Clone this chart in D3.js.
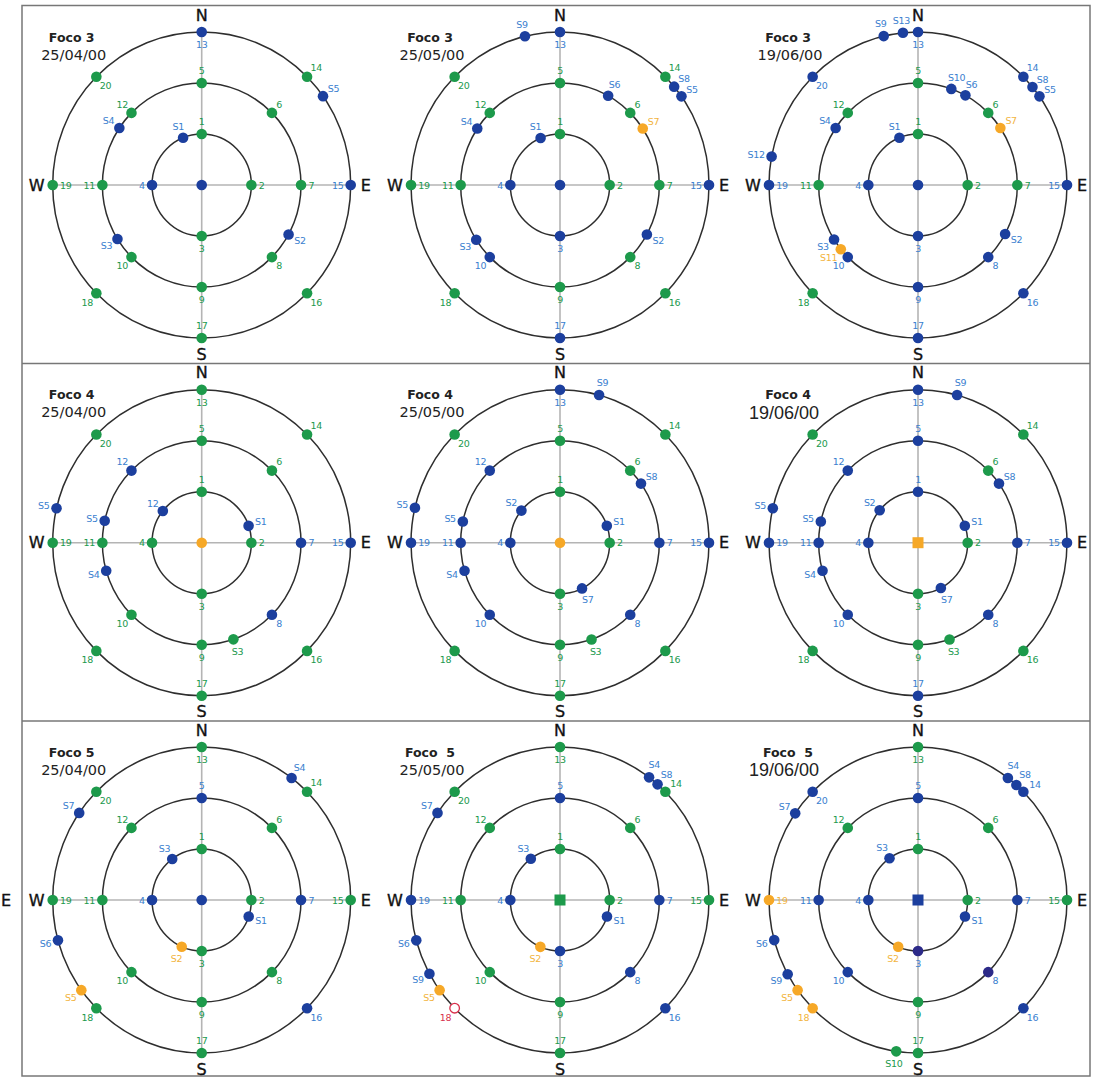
<!DOCTYPE html>
<html>
<head>
<meta charset="utf-8">
<script src="https://cdn.jsdelivr.net/npm/d3@7"></script>
<style>
  body { margin: 0; background: #ffffff; }
  svg { display: block; }
</style>
</head>
<body>
<svg id="chart" width="1100" height="1079"></svg>
<script>
// Fixed stations: centre (index 0) and stations 1-20, each on a ring (1 = inner, 3 = outer)
// at a compass bearing in degrees clockwise from north.
const stationNames   = ["", "1","2","3","4","5","6","7","8","9","10","11","12","13","14","15","16","17","18","19","20"];
const stationRing    = [0, 1,1,1,1, 2,2,2,2,2,2,2,2, 3,3,3,3,3,3,3,3];
const stationBearing = [0, 0,90,180,270, 0,45,90,135,180,225,270,315, 0,45,90,135,180,225,270,315];

// Panel headings, row by row
const focoNames   = ["Foco 3","Foco 3","Foco 3","Foco 4","Foco 4","Foco 4","Foco 5","Foco  5","Foco  5"];
const surveyDates = ["25/04/00","25/05/00","19/06/00","25/04/00","25/05/00","19/06/00","25/04/00","25/05/00","19/06/00"];
const centerMarker = ["circle","circle","circle","circle","circle","square","circle","square","square"];

// Station state per panel (centre, then 1..20):
// b = blue, g = green, o = orange, p = violet, r = red open circle
const stationStatus = [
  "b gggb gggggggg bgbggggg",
  "b ggbb gggggbgg bgbgbggg",
  "b ggbb gggbbbgg bbbbbgbb",
  "o gggg ggbbgggb ggbggggg",
  "o gggb ggbbgbbb bgbgggbg",
  "o bggb bgbbgbbb bgbgbgbg",
  "b gggb bgbggggg gggbgggg",
  "g ggbb bgbbgggg gggbgrbg",
  "b ggpb bgbpgbbg gbgbgoob"
];

// Sampled points: [label, ring, bearing, state]
const samplesP1 = [["S1",1,338,"b"],["S2",2,119,"b"],["S3",2,238,"b"],["S4",2,304,"b"],["S5",3,54.5,"b"]];
const samplesP2 = [["S1",1,337,"b"],["S2",2,119,"b"],["S3",2,237.5,"b"],["S4",2,303.6,"b"],["S5",3,54.6,"b"],
                   ["S6",2,29,"b"],["S7",2,56.4,"o"],["S8",3,50,"b"],["S9",3,346.4,"b"]];
const samplesP3 = [["S1",1,338,"b"],["S2",2,118.7,"b"],["S3",2,237.7,"b"],["S4",2,304,"b"],["S5",3,54.6,"b"],
                   ["S6",2,28.5,"b"],["S7",2,56,"o"],["S8",3,50.2,"b"],["S9",3,346.7,"b"],["S10",2,19.6,"b"],
                   ["S11",2,231,"o"],["S12",3,280.7,"b"],["S13",3,354.2,"b"]];
const samplesP4 = [["12",1,308.5,"b"],["S1",1,70.7,"b"],["S3",2,161.4,"g"],["S4",2,254,"b"],["S5",2,282.4,"b"],["S5",3,283,"b"]];
const samplesP5 = [["S1",1,70.5,"b"],["S2",1,309,"b"],["S3",2,161.5,"g"],["S4",2,254,"b"],["S5",2,282,"b"],
                   ["S5",3,283.2,"b"],["S7",1,153.7,"b"],["S8",2,54.6,"b"],["S9",3,15.2,"b"]];
const samplesP6 = [["S1",1,70.5,"b"],["S2",1,309.5,"b"],["S3",2,161.5,"g"],["S4",2,254,"b"],["S5",2,282,"b"],
                   ["S5",3,283,"b"],["S7",1,152.6,"b"],["S8",2,54.6,"b"],["S9",3,15.2,"b"]];
const samplesP7 = [["S1",1,108.9,"b"],["S2",1,203.7,"o"],["S3",1,323.6,"b"],["S4",3,37.1,"b"],["S5",3,233.9,"o"],
                   ["S6",3,254.7,"b"],["S7",3,304.7,"b"]];
const samplesP8 = [["S1",1,108.9,"b"],["S2",1,203.3,"o"],["S3",1,324,"b"],["S4",3,36.7,"b"],["S5",3,233.9,"o"],
                   ["S6",3,254.7,"b"],["S7",3,304.7,"b"],["S8",3,40.9,"b"],["S9",3,241.2,"b"]];
const samplesP9 = [["S1",1,108.8,"b"],["S2",1,203.5,"o"],["S3",1,325,"b"],["S4",3,37.1,"b"],["S5",3,233.9,"o"],
                   ["S6",3,254.8,"b"],["S7",3,304.5,"b"],["S8",3,41.3,"b"],["S9",3,241,"b"],["S10",3,188.4,"g"]];
const panelSamples = [samplesP1,samplesP2,samplesP3,samplesP4,samplesP5,samplesP6,samplesP7,samplesP8,samplesP9];

const compassLetters = ["N","E","S","W"];

// ---- drawing ----
const svg = d3.select("#chart");
const FILL  = { b:"#1c3f9e", g:"#1d9a4b", o:"#f6a827", p:"#2c2a88", r:"#ffffff" };
const TEXTC = { b:"#3a80cf", g:"#21994d", o:"#f2b440", p:"#3a80cf", r:"#d8304c" };
const FONT = "'DejaVu Sans', Verdana, sans-serif";

const colX = [201.7, 560, 918];
const rowY = [185, 542.7, 900];

// frame
svg.append("rect").attr("x", 22).attr("y", 5.5).attr("width", 1068).attr("height", 1070.5)
  .attr("fill", "none").attr("stroke", "#777").attr("stroke-width", 1.5);
[363.5, 721].forEach(y => svg.append("line").attr("x1", 22).attr("x2", 1090).attr("y1", y).attr("y2", y)
  .attr("stroke", "#777").attr("stroke-width", 1.5));
svg.append("text").attr("x", 6).attr("y", 900).attr("text-anchor", "middle").attr("dominant-baseline", "central")
  .attr("font-family", FONT).attr("font-size", 16).attr("fill", "#111").attr("stroke", "#111").attr("stroke-width", 0.35)
  .text("E");

const inwardLabel = new Set([13, 15, 17, 19, 20]);
const altDateFont = new Set([5, 8]);
// small shifts for crowded label clusters, keyed "panel:label"
const labelNudge = {
  "8:S4": [-2.5, -2.5], "8:S8": [0, -1], "8:14": [2.5, 1.5],
  "7:S4": [-2.5, -2.5], "7:S8": [0.5, -0.5], "7:14": [1.5, 1]
};

function labelOffset(bearing, text, inward) {
  const a = bearing * Math.PI / 180;
  let ux = Math.sin(a), uy = -Math.cos(a);
  if (inward) { ux = -ux; uy = -uy; }
  const w = text.length * 5.5;
  return [ux * (7.5 + w / 2), uy * 12.5];
}

focoNames.forEach((name, i) => {
  const cx = colX[i % 3], cy = rowY[Math.floor(i / 3)];
  const x = d3.scaleLinear().domain([-3, 3]).range([cx - 149, cx + 149]);
  const y = d3.scaleLinear().domain([-3, 3]).range([cy + 153, cy - 153]);
  const px = (r, b) => x(r * Math.sin(b * Math.PI / 180));
  const py = (r, b) => y(r * Math.cos(b * Math.PI / 180));
  const g = svg.append("g");

  // cross-hair axes
  g.append("line").attr("x1", x(0)).attr("x2", x(0)).attr("y1", y(3)).attr("y2", y(-3))
    .attr("stroke", "#b4b4b4").attr("stroke-width", 1.6);
  g.append("line").attr("x1", x(-3)).attr("x2", x(3)).attr("y1", y(0)).attr("y2", y(0))
    .attr("stroke", "#b4b4b4").attr("stroke-width", 1.6);

  // rings
  g.selectAll("ellipse.ring").data([1, 2, 3]).join("ellipse").attr("class", "ring")
    .attr("cx", x(0)).attr("cy", y(0))
    .attr("rx", d => x(d) - x(0)).attr("ry", d => y(0) - y(d))
    .attr("fill", "none").attr("stroke", "#2e2e2e").attr("stroke-width", 1.5);

  // compass letters
  const cpos = [[0, -170], [164, 0], [0, 169], [-165, 0]];
  compassLetters.forEach((c, k) => {
    g.append("text").attr("x", cx + cpos[k][0]).attr("y", cy + cpos[k][1])
      .attr("text-anchor", "middle").attr("dominant-baseline", "central")
      .attr("font-family", FONT).attr("font-size", 16).attr("fill", "#111")
      .attr("stroke", "#111").attr("stroke-width", 0.35).text(c);
  });

  // heading
  g.append("text").attr("x", cx - 130).attr("y", cy - 143.5).attr("text-anchor", "middle")
    .attr("font-family", FONT).attr("font-size", 12.5).attr("font-weight", "bold")
    .attr("fill", "#222").attr("xml:space", "preserve").text(name);
  if (altDateFont.has(i)) {
    g.append("text").attr("x", cx - 134).attr("y", cy - 123.8).attr("text-anchor", "middle")
      .attr("font-family", "'Liberation Sans', Arial, sans-serif").attr("font-size", 18)
      .attr("fill", "#222").text(surveyDates[i]);
  } else {
    g.append("text").attr("x", cx - 128).attr("y", cy - 125.5).attr("text-anchor", "middle")
      .attr("font-family", FONT).attr("font-size", 14.5).attr("fill", "#222").text(surveyDates[i]);
  }

  // assemble marks: fixed stations then samples
  const status = stationStatus[i].replace(/ /g, "").split("");
  const marks = stationNames.map((nm, s) => ({
    label: nm, ring: stationRing[s], bearing: stationBearing[s], state: status[s],
    shape: s === 0 ? centerMarker[i] : "circle", inward: inwardLabel.has(s)
  }));
  panelSamples[i].forEach(d => marks.push({ label: d[0], ring: d[1], bearing: d[2], state: d[3], shape: "circle", inward: false }));

  marks.forEach(m => {
    const mx = px(m.ring, m.bearing), my = py(m.ring, m.bearing);
    if (m.shape === "square") {
      g.append("rect").attr("x", mx - 5.5).attr("y", my - 5.5).attr("width", 11).attr("height", 11)
        .attr("fill", FILL[m.state]);
    } else if (m.state === "r") {
      g.append("circle").attr("cx", mx).attr("cy", my).attr("r", 4.8)
        .attr("fill", "#fff").attr("stroke", TEXTC.r).attr("stroke-width", 1.3);
    } else {
      g.append("circle").attr("cx", mx).attr("cy", my).attr("r", 5.3).attr("fill", FILL[m.state]);
    }
    if (m.label) {
      const [ox, oy] = labelOffset(m.bearing, m.label, m.inward);
      const [nx, ny] = labelNudge[i + ":" + m.label] || [0, 0];
      g.append("text").attr("x", mx + ox + nx).attr("y", my + oy + ny)
        .attr("text-anchor", "middle").attr("dominant-baseline", "central")
        .attr("font-family", FONT).attr("font-size", 9.5).attr("letter-spacing", -0.3)
        .attr("fill", TEXTC[m.state]).text(m.label);
    }
  });
});
</script>
</body>
</html>
